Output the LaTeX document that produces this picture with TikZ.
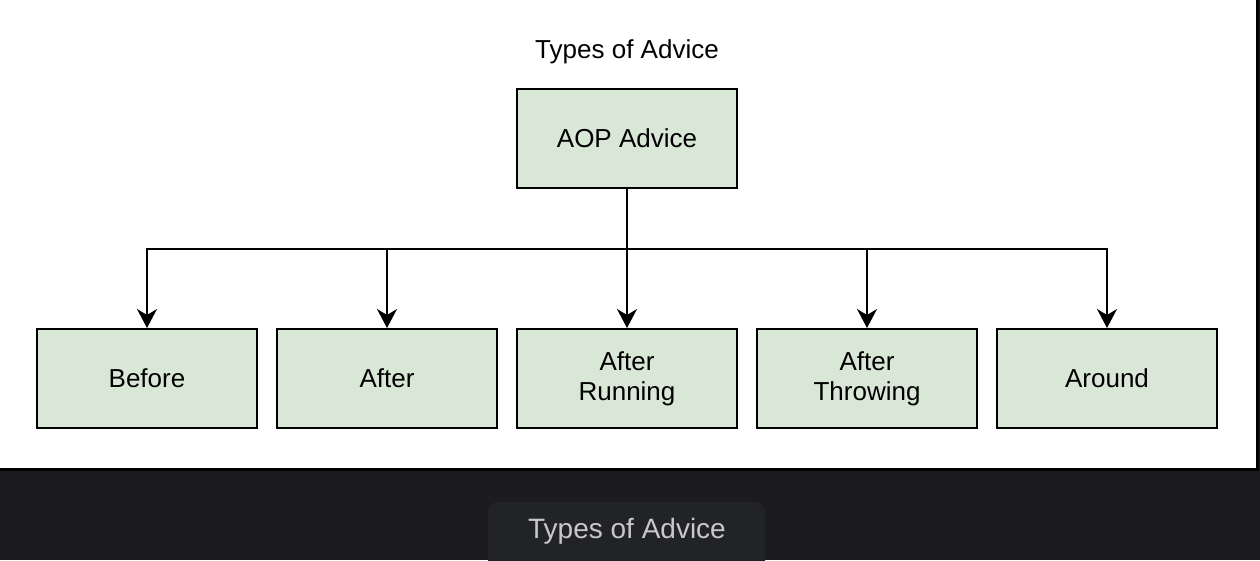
\documentclass[tikz,border=0pt]{standalone}
\usepackage{fontspec}
\setmainfont{Liberation Sans}
\usetikzlibrary{arrows.meta}
\definecolor{darkbg}{HTML}{1C1C1E}
\definecolor{capbg}{HTML}{222327}
\definecolor{captext}{HTML}{C8C8CC}
\definecolor{boxfill}{HTML}{D9E7D6}
\begin{document}
\begin{tikzpicture}[x=1pt,y=-1pt,
  advbox/.style={draw=black,line width=2pt,fill=boxfill,minimum width=220pt,minimum height=99pt,inner sep=0pt,font=\fontsize{26}{30}\selectfont,align=center},
  arr/.style={draw=black,line width=2pt,-{Stealth[length=19pt,width=20pt,inset=6pt]}}]
\useasboundingbox (0,0) rectangle (1260,560);
\fill[darkbg] (0,0) rectangle (1260,560);
\fill[white] (0,0) rectangle (1256,468);
\draw[black,line width=3pt] (0,469) -- (1257.5,469) -- (1257.5,0);
\begin{scope}
\clip (0,470) rectangle (1260,560);
\fill[capbg,rounded corners=10pt] (488,502) rectangle (765,590);
\end{scope}
\node[text=captext,font=\fontsize{28}{32}\selectfont] (cap) at (627,531) {Types of Advice};
\node[font=\fontsize{26}{30}\selectfont] (title) at (627,52) {Types of Advice};
\node[advbox] (aop) at (627,138.5) {AOP Advice};
\node[advbox] (before) at (147,378.5) {Before};
\node[advbox] (after) at (387,378.5) {After};
\node[advbox] (running) at (627,378.5) {After\\Running};
\node[advbox] (throwing) at (867,378.5) {After\\Throwing};
\node[advbox] (around) at (1107,378.5) {Around};
\coordinate (j) at (627,249);
\draw[arr] (aop.south) -- (j) -| (before.north);
\draw[arr] (j) -| (after.north);
\draw[arr] (j) -- (running.north);
\draw[arr] (j) -| (throwing.north);
\draw[arr] (j) -| (around.north);
\end{tikzpicture}
\end{document}
